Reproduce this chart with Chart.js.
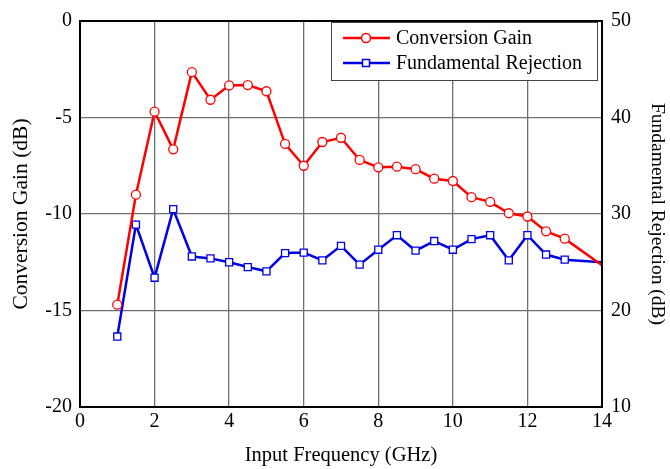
<!DOCTYPE html>
<html>
<head>
<meta charset="utf-8">
<title>Conversion Gain / Fundamental Rejection</title>
<script src="https://cdn.jsdelivr.net/npm/chart.js@4.4.1/dist/chart.umd.min.js"></script>
<style>
    html, body { margin: 0; padding: 0; background: #fff; }
    #chartBox { width: 670px; height: 469px; }
</style>
</head>
<body>
<div id="chartBox"><canvas id="gainChart" width="670" height="469"></canvas></div>
<script>
/* ========================================
   Data
   ======================================== */

const freqs = [1, 1.5, 2, 2.5, 3, 3.5, 4, 4.5, 5, 5.5, 6, 6.5, 7, 7.5, 8, 8.5, 9, 9.5, 10, 10.5, 11, 11.5, 12, 12.5, 13, 14];
const conversionGain = [-14.7, -9.0, -4.7, -6.65, -2.65, -4.08, -3.34, -3.32, -3.64, -6.37, -7.5, -6.27, -6.05, -7.2, -7.58, -7.55, -7.68, -8.17, -8.29, -9.13, -9.37, -9.96, -10.13, -10.9, -11.28, -12.66];
const fundamentalRejection = [17.3, 28.9, 23.4, 30.5, 25.6, 25.4, 25.0, 24.5, 24.06, 25.95, 26.0, 25.2, 26.7, 24.75, 26.3, 27.8, 26.2, 27.2, 26.3, 27.4, 27.8, 25.2, 27.8, 25.8, 25.27, 25.0];

const xTicks = [0, 2, 4, 6, 8, 10, 12, 14];
const gainTicks = [-20, -15, -10, -5, 0];
const rejectionTicks = [10, 20, 30, 40, 50];

const FONT = 'Liberation Serif, Times New Roman, serif';
const RED = '#ff0000';
const BLUE = '#0000e6';

function toPoints(ys) {
    return freqs.map((x, i) => ({ x: x, y: ys[i] }));
}

// last sample sits on the frame, no marker drawn there
function markerSize(size) {
    return ctx => (ctx.dataIndex === freqs.length - 1 ? 0 : size);
}

// black frame round the plot area
const framePlugin = {
    id: 'frame',
    afterDatasetsDraw(chart) {
        const a = chart.chartArea;
        const c = chart.ctx;
        c.save();
        c.strokeStyle = '#000';
        c.lineWidth = 2;
        c.strokeRect(a.left, a.top, a.right - a.left, a.bottom - a.top);
        c.restore();
    }
};

// legend box inside the plot, top right
const boxLegend = {
    id: 'boxLegend',
    afterDraw(chart) {
        const c = chart.ctx;
        const box = { x: 331, y: 22, w: 266, h: 58 };
        c.save();
        c.fillStyle = '#fff';
        c.fillRect(box.x, box.y, box.w, box.h);
        c.strokeStyle = '#444';
        c.lineWidth = 1;
        c.strokeRect(box.x + 0.5, box.y + 0.5, box.w, box.h);

        chart.data.datasets.forEach((ds, i) => {
            const y = 38 + i * 25;
            c.strokeStyle = ds.borderColor;
            c.lineWidth = 2.5;
            c.beginPath();
            c.moveTo(343, y);
            c.lineTo(390, y);
            c.stroke();

            c.fillStyle = '#fff';
            c.lineWidth = 1.5;
            if (ds.pointStyle === 'rect') {
                c.fillRect(362.5, y - 3.5, 7, 7);
                c.strokeRect(362.5, y - 3.5, 7, 7);
            } else {
                c.beginPath();
                c.arc(366, y, 4.5, 0, Math.PI * 2);
                c.fill();
                c.stroke();
            }

            c.fillStyle = '#000';
            c.font = '20px ' + FONT;
            c.textAlign = 'left';
            c.textBaseline = 'middle';
            c.fillText(ds.label, 396, y + 1);
        });
        c.restore();
    }
};

const ctx = document.getElementById('gainChart');

new Chart(ctx, {
    type: 'line',
    data: {
        datasets: [{
            label: 'Conversion Gain',
            data: toPoints(conversionGain),
            yAxisID: 'y',
            borderColor: RED,
            backgroundColor: '#fff',
            borderWidth: 2.5,
            pointStyle: 'circle',
            pointRadius: markerSize(4.5),
            pointBorderWidth: 1.3,
            pointBorderColor: RED,
            pointBackgroundColor: '#fff',
            tension: 0
        }, {
            label: 'Fundamental Rejection',
            data: toPoints(fundamentalRejection),
            yAxisID: 'y1',
            borderColor: BLUE,
            backgroundColor: '#fff',
            borderWidth: 2.5,
            pointStyle: 'rect',
            pointRadius: markerSize(5),
            pointBorderWidth: 1.3,
            pointBorderColor: BLUE,
            pointBackgroundColor: '#fff',
            tension: 0
        }]
    },
    options: {
        animation: false,
        responsive: false,
        devicePixelRatio: 1,
        layout: { padding: { top: 20, left: 0, right: 0, bottom: 0 } },
        plugins: {
            legend: { display: false },
            tooltip: { enabled: false }
        },
        scales: {
            x: {
                type: 'linear',
                min: 0,
                max: 14,
                afterBuildTicks: s => { s.ticks = xTicks.map(v => ({ value: v })); },
                afterFit: s => { s.height = 62; },
                ticks: { color: '#000', font: { family: FONT, size: 20 }, padding: 3, maxRotation: 0 },
                grid: { color: '#6e6e6e', lineWidth: 1.3, drawTicks: false },
                border: { color: '#000', width: 2 },
                title: {
                    display: true,
                    text: 'Input Frequency (GHz)',
                    color: '#000',
                    font: { family: FONT, size: 20.5 },
                    padding: { top: 0, bottom: 1 }
                }
            },
            y: {
                position: 'left',
                min: -20,
                max: 0,
                afterBuildTicks: s => { s.ticks = gainTicks.map(v => ({ value: v })); },
                afterFit: s => { s.width = 80; },
                ticks: { color: '#000', font: { family: FONT, size: 20 }, padding: 8 },
                grid: { color: '#6e6e6e', lineWidth: 1.3, drawTicks: false },
                border: { color: '#000', width: 2 },
                title: {
                    display: true,
                    text: 'Conversion Gain (dB)',
                    color: '#000',
                    font: { family: FONT, size: 21.5 },
                    padding: { top: 8, bottom: 0 }
                }
            },
            y1: {
                position: 'right',
                min: 10,
                max: 50,
                afterBuildTicks: s => { s.ticks = rejectionTicks.map(v => ({ value: v })); },
                afterFit: s => { s.width = 68; },
                ticks: { color: '#000', font: { family: FONT, size: 20 }, padding: 9 },
                grid: { drawOnChartArea: false, drawTicks: false },
                border: { color: '#000', width: 2 },
                title: {
                    display: true,
                    text: 'Fundamental Rejection (dB)',
                    color: '#000',
                    font: { family: FONT, size: 19.5 },
                    padding: { top: 1, bottom: 0 }
                }
            }
        }
    },
    plugins: [framePlugin, boxLegend]
});
</script>
</body>
</html>
